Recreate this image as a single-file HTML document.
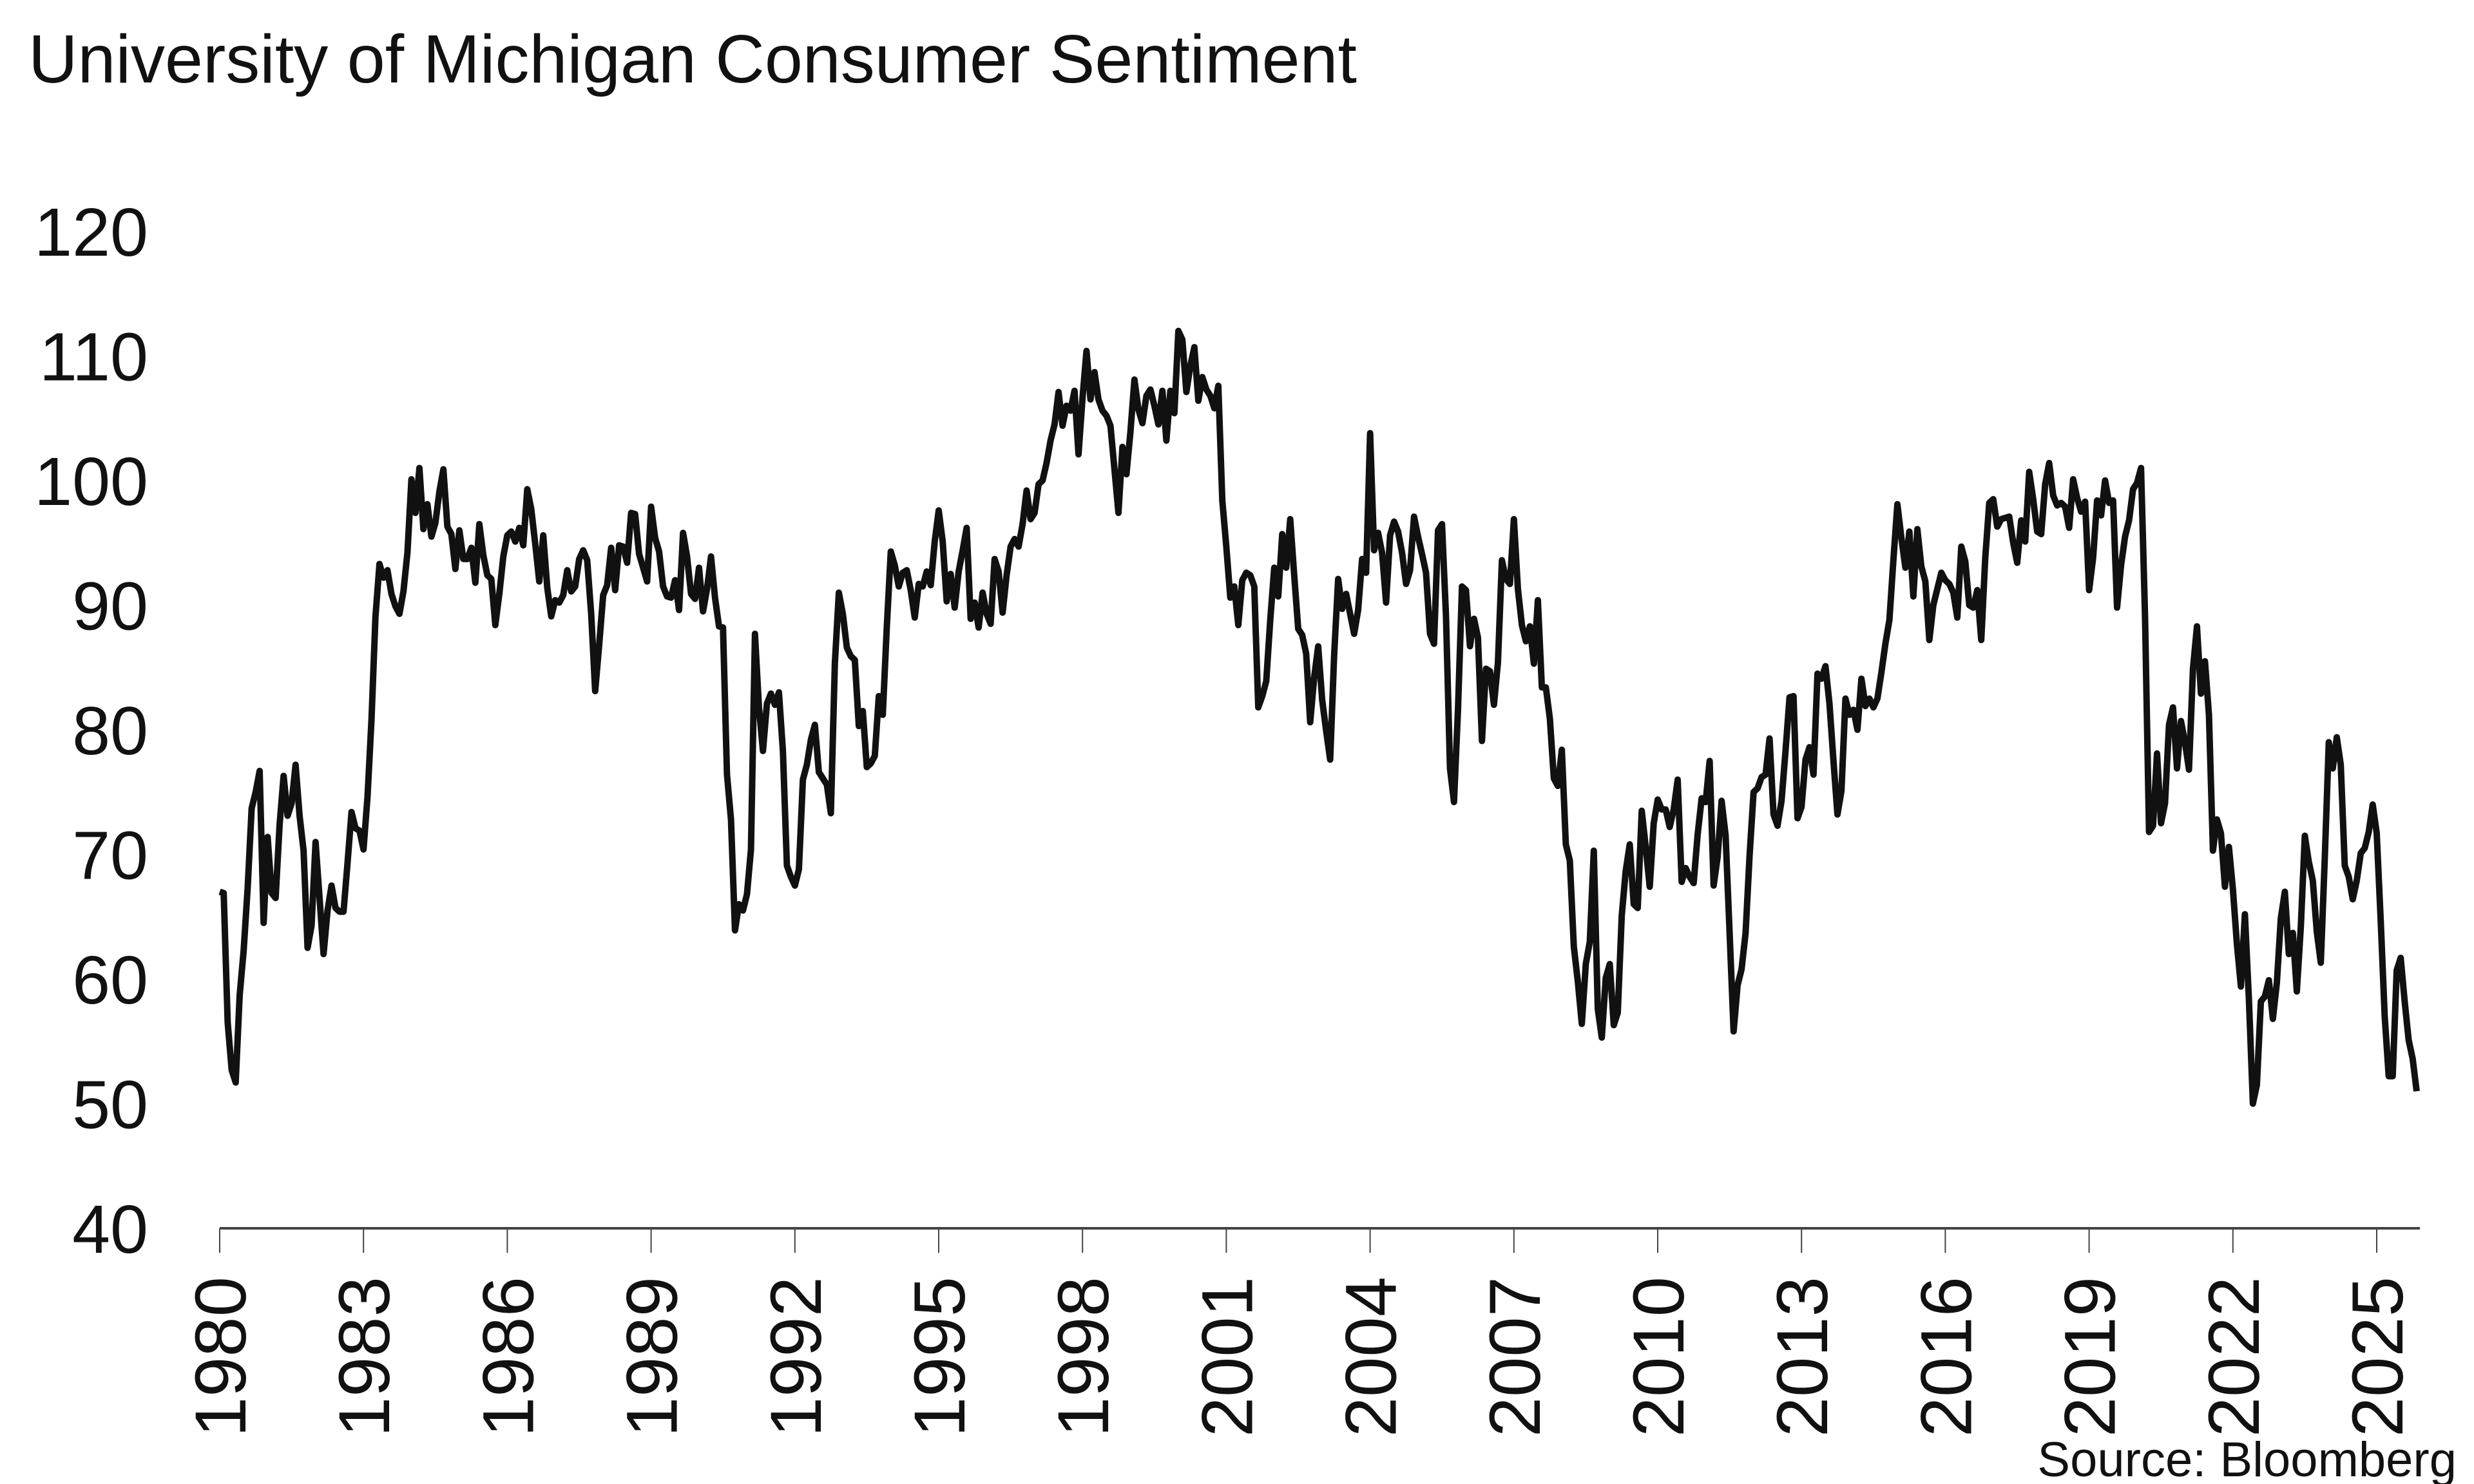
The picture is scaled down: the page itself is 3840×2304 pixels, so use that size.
<!DOCTYPE html>
<html><head><meta charset="utf-8"><style>
html,body{margin:0;padding:0;background:#fff;}
svg{display:block;font-family:"Liberation Sans",sans-serif;}
</style></head><body>
<svg id="chart" width="3840" height="2304" viewBox="0 0 3840 2304" xmlns="http://www.w3.org/2000/svg">
<text x="44" y="128" font-size="106" fill="#111">University of Michigan Consumer Sentiment</text>
<g id="yaxis"></g>
<g id="xaxis"></g>
<path id="line" fill="none" stroke="#111" stroke-width="10" stroke-linejoin="round"/>
<text x="3813" y="2292" font-size="76" text-anchor="end" fill="#111">Source: Bloomberg</text>
</svg>
<script>
const startYear = 1980;
const yTicks = [40,50,60,70,80,90,100,110,120];
const xTickYears = [1980,1983,1986,1989,1992,1995,1998,2001,2004,2007,2010,2013,2016,2019,2022,2025];
const v1980s = [67.0,66.9,56.5,52.7,51.7,58.7,62.3,67.3,73.7,75.0,76.7,64.5,
71.4,66.9,66.5,72.4,76.3,73.1,74.1,77.2,73.1,70.3,62.5,64.3,
71.0,66.5,62.0,65.5,67.5,65.7,65.4,65.4,69.3,73.4,72.1,71.9,
70.4,74.6,80.8,89.1,93.3,92.2,92.8,90.9,89.9,89.3,91.1,94.2,
100.1,97.4,101.0,96.1,98.1,95.5,96.6,99.1,100.9,96.3,95.7,92.9,
96.0,93.7,93.7,94.6,91.8,96.5,94.0,92.4,92.1,88.4,90.9,93.9,
95.6,95.9,95.1,96.2,94.8,99.3,97.7,94.9,91.9,95.6,91.4,89.1,
90.4,90.2,90.8,92.8,91.1,91.5,93.7,94.4,93.6,89.3,83.1,86.8,
90.8,91.6,94.6,91.2,94.8,94.7,93.4,97.4,97.3,94.1,93.0,91.9,
97.9,95.4,94.3,91.5,90.7,90.6,92.0,89.6,95.8,93.9,90.9,90.5];
const v1990s = [93.0,89.5,91.3,93.9,90.6,88.3,88.2,76.4,72.8,63.9,66.0,65.5,
66.8,70.4,87.7,81.8,78.3,82.1,82.9,82.0,83.0,78.3,69.1,68.2,
67.5,68.8,76.0,77.2,79.2,80.4,76.6,76.1,75.6,73.3,85.3,91.0,
89.3,86.6,85.9,85.6,80.3,81.5,77.0,77.3,77.9,82.7,81.2,88.2,
94.3,93.2,91.5,92.6,92.8,91.2,89.0,91.7,91.5,92.7,91.6,95.1,
97.6,95.1,90.3,92.5,89.8,92.7,94.4,96.2,88.9,90.2,88.2,91.0,
89.3,88.5,93.7,92.7,89.4,92.4,94.7,95.3,94.7,96.5,99.2,96.9,
97.4,99.7,100.0,101.4,103.2,104.5,107.1,104.4,106.0,105.6,107.2,102.1,
106.6,110.4,106.5,108.7,106.5,105.6,105.2,104.4,100.9,97.4,102.7,100.5,
103.9,108.1,105.7,104.6,106.8,107.3,106.0,104.5,107.2,103.2,107.2,105.4];
const v2000s = [112.0,111.3,107.1,109.2,110.7,106.4,108.3,107.3,106.8,105.8,107.6,98.4,
94.7,90.6,91.5,88.4,92.0,92.6,92.4,91.5,81.8,82.7,83.9,88.8,
93.0,90.7,95.7,93.0,96.9,92.4,88.1,87.6,86.1,80.6,84.2,86.7,
82.4,79.9,77.6,86.0,92.1,89.7,90.9,89.3,87.7,89.6,93.7,92.6,
103.8,94.4,95.8,94.2,90.2,95.6,96.7,95.9,94.2,91.7,92.8,97.1,
95.5,94.1,92.6,87.7,86.9,96.0,96.5,89.1,76.9,74.2,81.6,91.5,
91.2,86.7,88.9,87.4,79.1,84.9,84.7,82.0,85.4,93.6,92.1,91.7,
96.9,91.3,88.4,87.1,88.3,85.3,90.4,83.4,83.4,80.9,76.1,75.5,
78.4,70.8,69.5,62.6,59.8,56.4,61.2,63.0,70.3,57.6,55.3,60.1,
61.2,56.3,57.3,65.1,68.7,70.8,66.0,65.7,73.5,70.6,67.4,72.5];
const v2010s = [74.4,73.6,73.6,72.2,73.6,76.0,67.8,68.9,68.2,67.7,71.6,74.5,
74.2,77.5,67.5,69.8,74.3,71.5,63.7,55.8,59.5,60.8,63.7,69.9,
75.0,75.3,76.2,76.4,79.3,73.2,72.3,74.3,78.3,82.6,82.7,72.9,
73.8,77.6,78.6,76.4,84.5,84.1,85.1,82.1,77.5,73.2,75.1,82.5,
81.2,81.6,80.0,84.1,81.9,82.5,81.8,82.5,84.6,86.9,88.8,93.6,
98.1,95.4,93.0,95.9,90.7,96.1,93.1,91.9,87.2,90.0,91.3,92.6,
92.0,91.7,91.0,89.0,94.7,93.5,90.0,89.8,91.2,87.2,93.8,98.2,
98.5,96.3,96.9,97.0,97.1,95.0,93.4,96.8,95.1,100.7,98.5,95.9,
95.7,99.7,101.4,98.8,98.0,98.2,97.9,96.2,100.1,98.6,97.5,98.3,
91.2,93.8,98.4,97.2,100.0,98.2,98.4,89.8,93.2,95.5,96.8,99.3];
const v2020s = [99.8,101.0,89.1,71.8,72.3,78.1,72.5,74.1,80.4,81.8,76.9,80.7,
79.0,76.8,84.9,88.3,82.9,85.5,81.2,70.3,72.8,71.7,67.4,70.6,
67.2,62.8,59.4,65.2,58.4,50.0,51.5,58.2,58.6,59.9,56.8,59.7,
64.9,67.0,62.0,63.7,59.0,64.2,71.5,69.4,67.9,63.8,61.3,69.7,
79.0,76.9,79.4,77.2,69.1,68.2,66.4,67.9,70.1,70.5,71.8,74.0,
71.7,64.7,57.0,52.2,52.2,60.7,61.7,58.2,55.1,53.6,51.0];
const values = v1980s.concat(v1990s, v2000s, v2010s, v2020s);

const X0 = 341, PXYR = 74.4, Y40 = 1907, PXU = 19.35;
function xScale(t){ return X0 + (t - startYear) * PXYR; }
function yScale(v){ return Y40 - (v - 40) * PXU; }
const NS = "http://www.w3.org/2000/svg";

const ya = document.getElementById('yaxis');
yTicks.forEach(function(v){
  const t = document.createElementNS(NS,'text');
  
  
  t.setAttribute('x', 230);
  t.setAttribute('y', yScale(v) + 38);
  t.setAttribute('text-anchor','end');
  t.setAttribute('font-size','106');
  t.setAttribute('fill','#111');
  t.textContent = v;
  ya.appendChild(t);
});

const xa = document.getElementById('xaxis');
const base = document.createElementNS(NS,'line');


base.setAttribute('x1', X0); base.setAttribute('x2', 3756);
base.setAttribute('y1', Y40); base.setAttribute('y2', Y40);
base.setAttribute('stroke','#444'); base.setAttribute('stroke-width','4');
xa.appendChild(base);
xTickYears.forEach(function(yr){
  const x = xScale(yr);
  const tk = document.createElementNS(NS,'line');
  
  
  tk.setAttribute('x1', x); tk.setAttribute('x2', x);
  tk.setAttribute('y1', Y40); tk.setAttribute('y2', 1945);
  tk.setAttribute('stroke','#444'); tk.setAttribute('stroke-width','2');
  xa.appendChild(tk);
  const t = document.createElementNS(NS,'text');
  
  
  t.setAttribute('transform','translate(' + (x + 40) + ',1982) rotate(-90)');
  t.setAttribute('text-anchor','end');
  t.setAttribute('font-size','112');
  t.setAttribute('fill','#111');
  t.textContent = yr;
  xa.appendChild(t);
});

let d = '';
values.forEach(function(v, i){
  d += (i ? 'L' : 'M') + xScale(startYear + i / 12).toFixed(1) + ',' + yScale(v).toFixed(1);
});
document.getElementById('line').setAttribute('d', d);
</script>
</body></html>
